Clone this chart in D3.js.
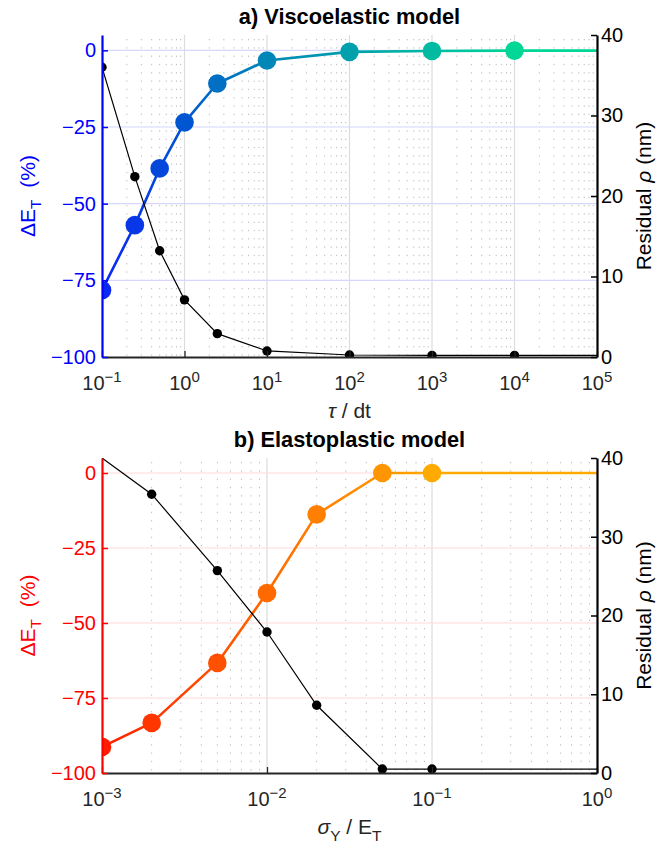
<!DOCTYPE html>
<html>
<head>
<meta charset="utf-8">
<script src="https://cdn.jsdelivr.net/npm/d3@7"></script>
<style>
  body { margin: 0; background: #fff; }
  text { font-family: "Liberation Sans", Arial, Helvetica, sans-serif; }
</style>
</head>
<body>
<div id="chart"></div>
<script>
// a) Viscoelastic model
const tauDt = [0.1, 0.25, 0.5, 1, 2.5, 10, 100, 1000, 10000];
const dEVisco = [-78.2, -57, -38.5, -23.5, -10.8, -3.3, -0.5, -0.2, -0.1];
const resVisco = [36.0, 22.4, 13.2, 7.1, 2.9, 0.75, 0.25, 0.2, 0.2];
const tauEnd = 1e5;

// b) Elastoplastic model
const sigmaY = [0.001, 0.002, 0.005, 0.01, 0.02, 0.05, 0.1];
const dEPlast = [-91.3, -83.3, -63.3, -40, -13.8, 0, 0];
const resPlast = [40, 35.4, 25.7, 17.9, 8.6, 0.5, 0.5];
const sigmaEnd = 1;

const dETicks = [-100, -75, -50, -25, 0];
const resTicks = [0, 10, 20, 30, 40];

const W = 672, H = 845;
const left = 102, right = 597;
const tickFont = '20px';
const labelFont = '21px';
// matlab draws a wide minus in tick labels
const fmtNum = d => String(d).replace('-', '\u2212');

const svg = d3.select('#chart')
  .append('svg')
  .attr('width', W)
  .attr('height', H);
const defs = svg.append('defs');

function drawPanel(cfg) {
  const x = d3.scaleLog().domain(cfg.xDomain).range([left, right]);
  const yL = d3.scaleLinear().domain([-100, 5]).range([cfg.bottom, cfg.top]);
  const yR = d3.scaleLinear().domain([0, 40]).range([cfg.bottom, cfg.top]);

  const e0 = Math.round(Math.log10(cfg.xDomain[0]));
  const e1 = Math.round(Math.log10(cfg.xDomain[1]));
  const decades = d3.range(e0, e1 + 1).map(e => Math.pow(10, e));
  const minors = d3.range(e0, e1).flatMap(e => d3.range(2, 10).map(k => k * Math.pow(10, e)));

  const g = svg.append('g');

  defs.append('clipPath').attr('id', 'clip' + cfg.id)
    .append('rect')
    .attr('x', left).attr('y', cfg.top)
    .attr('width', right - left).attr('height', cfg.bottom - cfg.top);

  // grid
  const grid = g.append('g');
  grid.selectAll('.minor').data(minors).enter().append('line')
    .attr('x1', d => x(d)).attr('x2', d => x(d))
    .attr('y1', cfg.top + 4).attr('y2', cfg.bottom)
    .attr('stroke', '#bcbcbc').attr('stroke-width', 1)
    .attr('stroke-dasharray', '1.3,7');
  grid.selectAll('.major').data(decades.slice(1, -1)).enter().append('line')
    .attr('x1', d => x(d)).attr('x2', d => x(d))
    .attr('y1', cfg.top).attr('y2', cfg.bottom)
    .attr('stroke', '#dcdcdc').attr('stroke-width', 1.2);
  grid.selectAll('.hgrid').data(dETicks.slice(1)).enter().append('line')
    .attr('x1', left).attr('x2', right)
    .attr('y1', d => yL(d)).attr('y2', d => yL(d))
    .attr('stroke', cfg.hGrid).attr('stroke-width', 1.2);

  const plot = g.append('g').attr('clip-path', `url(#clip${cfg.id})`);

  // coloured ΔE line with gradient segments
  const color = d3.scaleLinear().domain(cfg.colorStops).range(cfg.colors).interpolate(d3.interpolateRgb);
  const pts = cfg.xs.map((d, i) => ({ x: x(d), y: yL(cfg.dE[i]), c: color(i) }));
  const last = pts[pts.length - 1];
  const linePts = pts.concat([{ x: x(cfg.xEnd), y: yL(cfg.dE[cfg.dE.length - 1]), c: last.c }]);
  for (let i = 0; i < linePts.length - 1; i++) {
    const a = linePts[i], b = linePts[i + 1];
    const gid = `grad${cfg.id}${i}`;
    const lg = defs.append('linearGradient').attr('id', gid)
      .attr('gradientUnits', 'userSpaceOnUse')
      .attr('x1', a.x).attr('y1', a.y).attr('x2', b.x).attr('y2', b.y);
    lg.append('stop').attr('offset', 0).attr('stop-color', a.c);
    lg.append('stop').attr('offset', 1).attr('stop-color', b.c);
    plot.append('line')
      .attr('x1', a.x).attr('y1', a.y).attr('x2', b.x).attr('y2', b.y + 0.01)
      .attr('stroke', `url(#${gid})`).attr('stroke-width', 2.6)
      .attr('stroke-linecap', 'round');
  }
  plot.selectAll('.big').data(pts).enter().append('circle')
    .attr('cx', d => d.x).attr('cy', d => d.y).attr('r', 9.3)
    .attr('fill', d => d.c);

  // residual line (right axis)
  const resData = cfg.xs.map((d, i) => [d, cfg.res[i]]);
  resData.push([cfg.xEnd, cfg.res[cfg.res.length - 1]]);
  plot.append('path')
    .datum(resData)
    .attr('fill', 'none').attr('stroke', '#000').attr('stroke-width', 1.2)
    .attr('d', d3.line().x(d => x(d[0])).y(d => yR(d[1])));
  plot.selectAll('.small').data(resData.slice(0, -1).filter(d => d[1] < 40)).enter().append('circle')
    .attr('cx', d => x(d[0])).attr('cy', d => yR(d[1])).attr('r', 4.7)
    .attr('fill', '#000');

  // x axis
  const xAxis = g.append('g').attr('transform', `translate(0,${cfg.bottom})`);
  xAxis.call(d3.axisBottom(x).tickValues(minors).tickSize(-3).tickSizeOuter(0).tickFormat(''));
  xAxis.call(d3.axisBottom(x).tickValues(decades).tickSize(-6).tickSizeOuter(0).tickFormat(''));
  xAxis.selectAll('line').attr('stroke', '#262626').attr('stroke-width', 1.3);
  xAxis.selectAll('path').attr('stroke', '#262626').attr('stroke-width', 2);
  xAxis.selectAll('.xlab').data(decades).enter().append('text')
    .attr('x', d => x(d)).attr('y', 33)
    .attr('text-anchor', 'middle').attr('fill', '#262626').attr('font-size', tickFont)
    .each(function (d) {
      const t = d3.select(this);
      t.append('tspan').text('10');
      t.append('tspan').attr('dy', -8).attr('font-size', '15px')
        .text(fmtNum(Math.round(Math.log10(d))));
    });

  // left axis
  const yAxisL = g.append('g').attr('transform', `translate(${left},0)`)
    .call(d3.axisLeft(yL).tickValues(dETicks).tickSize(-6).tickSizeOuter(0).tickPadding(6)
      .tickFormat(fmtNum));
  yAxisL.selectAll('path').attr('stroke', cfg.axisColor).attr('stroke-width', 2.2);
  yAxisL.selectAll('line').attr('stroke', cfg.axisColor).attr('stroke-width', 1.5);
  yAxisL.selectAll('text').attr('fill', cfg.axisColor).attr('font-size', tickFont)
    .style('font-family', '"Liberation Sans", Arial, sans-serif');

  // right axis
  const yAxisR = g.append('g').attr('transform', `translate(${right},0)`)
    .call(d3.axisRight(yR).tickValues(resTicks).tickSize(-6).tickSizeOuter(0).tickPadding(4)
      .tickFormat(fmtNum));
  yAxisR.selectAll('path').attr('stroke', '#000').attr('stroke-width', 2.2);
  yAxisR.selectAll('line').attr('stroke', '#000').attr('stroke-width', 1.5);
  yAxisR.selectAll('text').attr('fill', '#000').attr('font-size', tickFont)
    .style('font-family', '"Liberation Sans", Arial, sans-serif');

  // title
  g.append('text')
    .attr('x', (left + right) / 2).attr('y', cfg.titleY)
    .attr('text-anchor', 'middle').attr('font-weight', 'bold').attr('font-size', '21.8px')
    .attr('fill', '#000')
    .text(cfg.title);

  // left label
  const midY = (cfg.top + cfg.bottom) / 2;
  const ll = g.append('text')
    .attr('transform', `translate(35,${midY}) rotate(-90)`)
    .attr('text-anchor', 'middle').attr('fill', cfg.axisColor).attr('font-size', labelFont);
  ll.append('tspan').text('ΔE');
  ll.append('tspan').attr('dy', 6).attr('font-size', '15.5px').text('T');
  ll.append('tspan').attr('dy', -6).attr('xml:space', 'preserve').text('  (%)');

  // right label
  const rl = g.append('text')
    .attr('transform', `translate(651,${midY}) rotate(-90)`)
    .attr('text-anchor', 'middle').attr('fill', '#000').attr('font-size', labelFont);
  rl.append('tspan').text('Residual ');
  rl.append('tspan').attr('font-style', 'italic').text('ρ');
  rl.append('tspan').text(' (nm)');

  // x label
  const xl = g.append('text')
    .attr('x', (left + right) / 2).attr('y', cfg.xLabelY)
    .attr('text-anchor', 'middle').attr('fill', '#262626').attr('font-size', labelFont);
  cfg.xLabel(xl);
}

drawPanel({
  id: 'a', top: 35, bottom: 357, xDomain: [0.1, 1e5],
  xs: tauDt, dE: dEVisco, res: resVisco, xEnd: tauEnd,
  axisColor: '#0000ff', hGrid: '#d6d6ff',
  colorStops: [0, 3, 6, 8], colors: ['#0a28f2', '#0056d0', '#00a0ac', '#00d696'],
  title: 'a) Viscoelastic model', titleY: 24, xLabelY: 418,
  xLabel: t => {
    t.append('tspan').attr('font-style', 'italic').text('τ');
    t.append('tspan').text(' / dt');
  }
});

drawPanel({
  id: 'b', top: 458, bottom: 773, xDomain: [0.001, 1],
  xs: sigmaY, dE: dEPlast, res: resPlast, xEnd: sigmaEnd,
  axisColor: '#ff0000', hGrid: '#ffd9d9',
  colorStops: [0, 3, 6], colors: ['#ff1c00', '#ff6a00', '#ffaa00'],
  title: 'b) Elastoplastic model', titleY: 447, xLabelY: 834,
  xLabel: t => {
    t.append('tspan').attr('font-style', 'italic').text('σ');
    t.append('tspan').attr('dy', 7).attr('font-size', '15.5px').text('Y');
    t.append('tspan').attr('dy', -7).text(' / E');
    t.append('tspan').attr('dy', 7).attr('font-size', '15.5px').text('T');
  }
});
</script>
</body>
</html>
